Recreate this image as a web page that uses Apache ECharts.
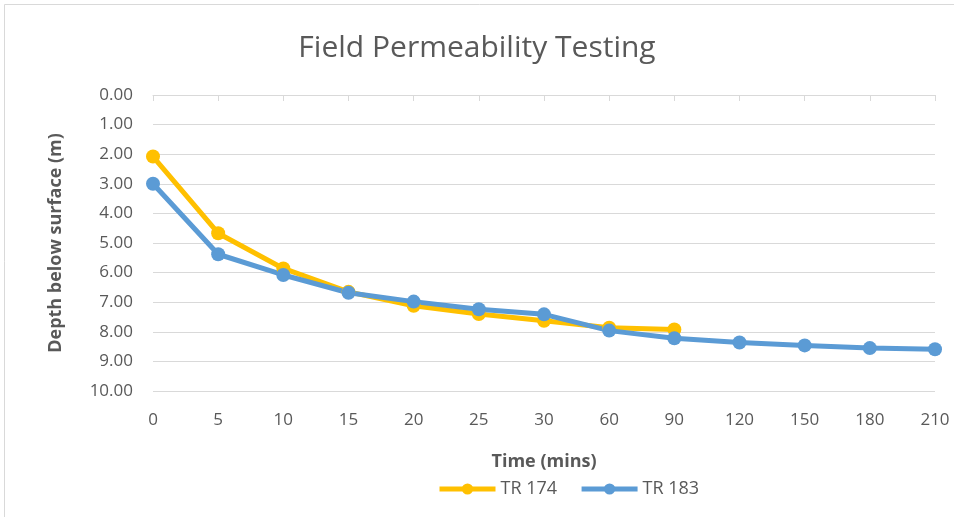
<!DOCTYPE html>
<html>
<head>
<meta charset="utf-8">
<script src="https://cdn.jsdelivr.net/npm/echarts@6/dist/echarts.min.js"></script>
<style>
  html, body { margin: 0; padding: 0; background: #fff; }
  #chart { width: 954px; height: 517px; }
</style>
</head>
<body>
<div id="chart"></div>
<script>
var timeLabels = ["0", "5", "10", "15", "20", "25", "30", "60", "90", "120", "150", "180", "210"];
var tr174 = [2.08, 4.67, 5.86, 6.65, 7.12, 7.40, 7.63, 7.86, 7.92, null, null, null, null];
var tr183 = [3.00, 5.38, 6.08, 6.68, 6.98, 7.24, 7.41, 7.96, 8.22, 8.36, 8.46, 8.55, 8.59];

var chart = echarts.init(document.getElementById("chart"));
var font = "'Open Sans', sans-serif";

chart.setOption({
  animation: false,
  textStyle: { fontFamily: font },
  title: {
    text: "Field Permeability Testing",
    left: "center",
    top: 28,
    textStyle: { fontSize: 30, fontWeight: "normal", color: "#595959", fontFamily: font }
  },
  graphic: [{
    type: "rect",
    shape: { x: 4.5, y: 4.5, width: 960, height: 530 },
    style: { fill: null, stroke: "#d9d9d9", lineWidth: 1 },
    silent: true
  }],
  grid: { left: 153, right: 19, top: 95, bottom: 126 },
  legend: {
    bottom: 14,
    left: 432,
    itemWidth: 56,
    itemHeight: 14,
    itemGap: 22,
    textStyle: { fontSize: 18, color: "#595959" },
    lineStyle: { width: 5 },
    data: ["TR 174", "TR 183"]
  },
  xAxis: {
    type: "category",
    data: timeLabels,
    boundaryGap: false,
    name: "Time (mins)",
    nameLocation: "middle",
    nameGap: 62,
    nameTextStyle: { fontSize: 18, fontWeight: "bold", color: "#595959" },
    axisLine: { lineStyle: { color: "#d9d9d9", width: 1 } },
    axisTick: { show: true, length: 6, lineStyle: { color: "#d9d9d9" } },
    axisLabel: { fontSize: 17, color: "#595959", margin: 21 }
  },
  yAxis: {
    type: "value",
    inverse: true,
    min: 0,
    max: 10,
    interval: 1,
    name: "Depth below surface (m)",
    nameLocation: "middle",
    nameGap: 88,
    nameTextStyle: { fontSize: 18, fontWeight: "bold", color: "#595959" },
    axisLine: { show: false },
    axisTick: { show: false },
    axisLabel: {
      fontSize: 17,
      color: "#595959",
      margin: 20,
      formatter: function (v) { return v.toFixed(2); }
    },
    splitLine: { lineStyle: { color: "#d9d9d9", width: 1 } }
  },
  series: [
    {
      name: "TR 174",
      type: "line",
      data: tr174,
      color: "#FFC000",
      symbol: "circle",
      symbolSize: 14,
      lineStyle: { width: 5 }
    },
    {
      name: "TR 183",
      type: "line",
      data: tr183,
      color: "#5B9BD5",
      symbol: "circle",
      symbolSize: 14,
      lineStyle: { width: 5 }
    }
  ]
});
</script>
</body>
</html>
